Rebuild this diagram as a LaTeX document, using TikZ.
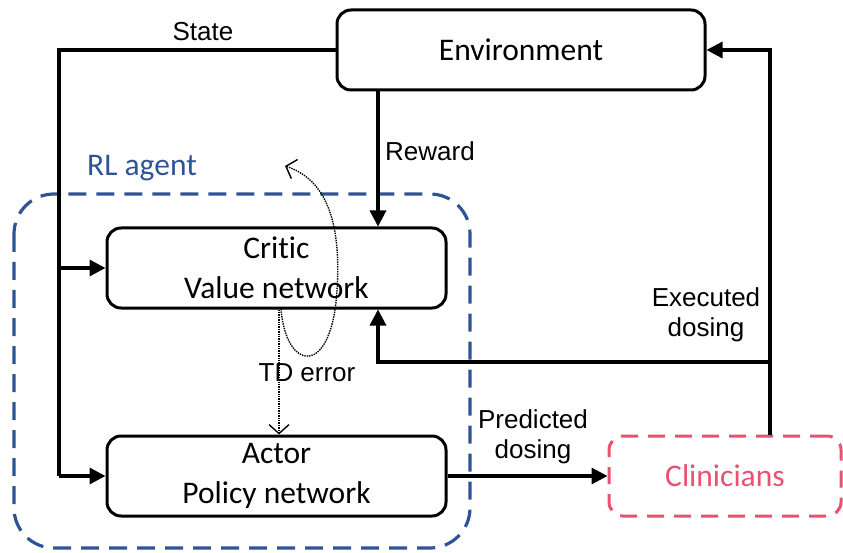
\documentclass[tikz,border=0pt]{standalone}
\usepackage{fontspec}
\setmainfont{Liberation Sans}
\newfontfamily\carlito[RawFeature=-liga]{Carlito}
\usetikzlibrary{arrows.meta}
\definecolor{agentblue}{RGB}{47,84,150}
\definecolor{clinpink}{RGB}{232,82,112}
\begin{document}
\begin{tikzpicture}[x=1pt,y=-1pt,
  box/.style={draw, line width=3pt, rounded corners=14pt, minimum height=80pt, inner sep=0pt, font=\carlito\fontsize{31.5}{40}\selectfont, align=center},
  conn/.style={line width=3.2pt, -{Triangle[length=16pt,width=16pt]}},
  plain/.style={line width=3.2pt},
  lbl/.style={font=\fontsize{26}{30}\selectfont, align=center, inner sep=0pt}
]
\useasboundingbox (0,0) rectangle (843,553);
% agent frame
\draw[agentblue, line width=3.2pt, dash pattern=on 18pt off 10pt, rounded corners=40pt] (14,194) rectangle (470,548);
\node[text=agentblue, font=\carlito\fontsize{31.5}{40}\selectfont, inner sep=0pt] (rl) at (142,168) {RL agent};
% boxes
\node[box, minimum width=368pt] (env) at (521,50) {Environment};
\node[box, minimum width=339pt] (critic) at (276.5,268) {Critic\\Value network};
\node[box, minimum width=339pt] (actor) at (276.5,476) {Actor\\Policy network};
\node[box, draw=clinpink, text=clinpink, dash pattern=on 17pt off 10pt, minimum width=232pt] (clin) at (725,476) {Clinicians};
% coordinates
\coordinate (sx) at (59,0);
\coordinate (rw) at (378,0);
\coordinate (rx) at (770,0);
\coordinate (ex) at (770,362);
\coordinate (td) at (279,0);
\coordinate (curveend) at (285,166);
% State
\draw[plain] (env.west) -| (sx |- actor.west);
\draw[conn] (sx |- critic.west) -- (critic.west);
\draw[conn] (sx |- actor.west) -- (actor.west);
% Reward
\draw[conn] (env.south -| rw) -- (critic.north -| rw);
% Executed dosing
\draw[conn] (clin.north -| rx) |- (env.east);
\draw[conn] (ex) -| (critic.south -| rw);
% Predicted dosing
\draw[conn] (actor.east) -- (clin.west);
% TD error
\draw[line width=1.4pt, densely dotted, -{Straight Barb[length=9pt,width=20pt]}] (critic.south -| td) -- (actor.north -| td);
\draw[line width=1.4pt, densely dotted, -{Straight Barb[length=9pt,width=20pt]}]
  (281,309) .. controls (286,372) and (332,378) .. (337,290)
  .. controls (342,215) and (322,178) .. (curveend);
% labels
\node[lbl] (lstate) at (203,32) {State};
\node[lbl] (lreward) at (430,151) {Reward};
\node[lbl] (ltd) at (307,373) {TD error};
\node[lbl] (lpred) at (533,437) {Predicted\\dosing};
\node[lbl] (lexec) at (706,315) {Executed\\dosing};
\end{tikzpicture}
\end{document}
